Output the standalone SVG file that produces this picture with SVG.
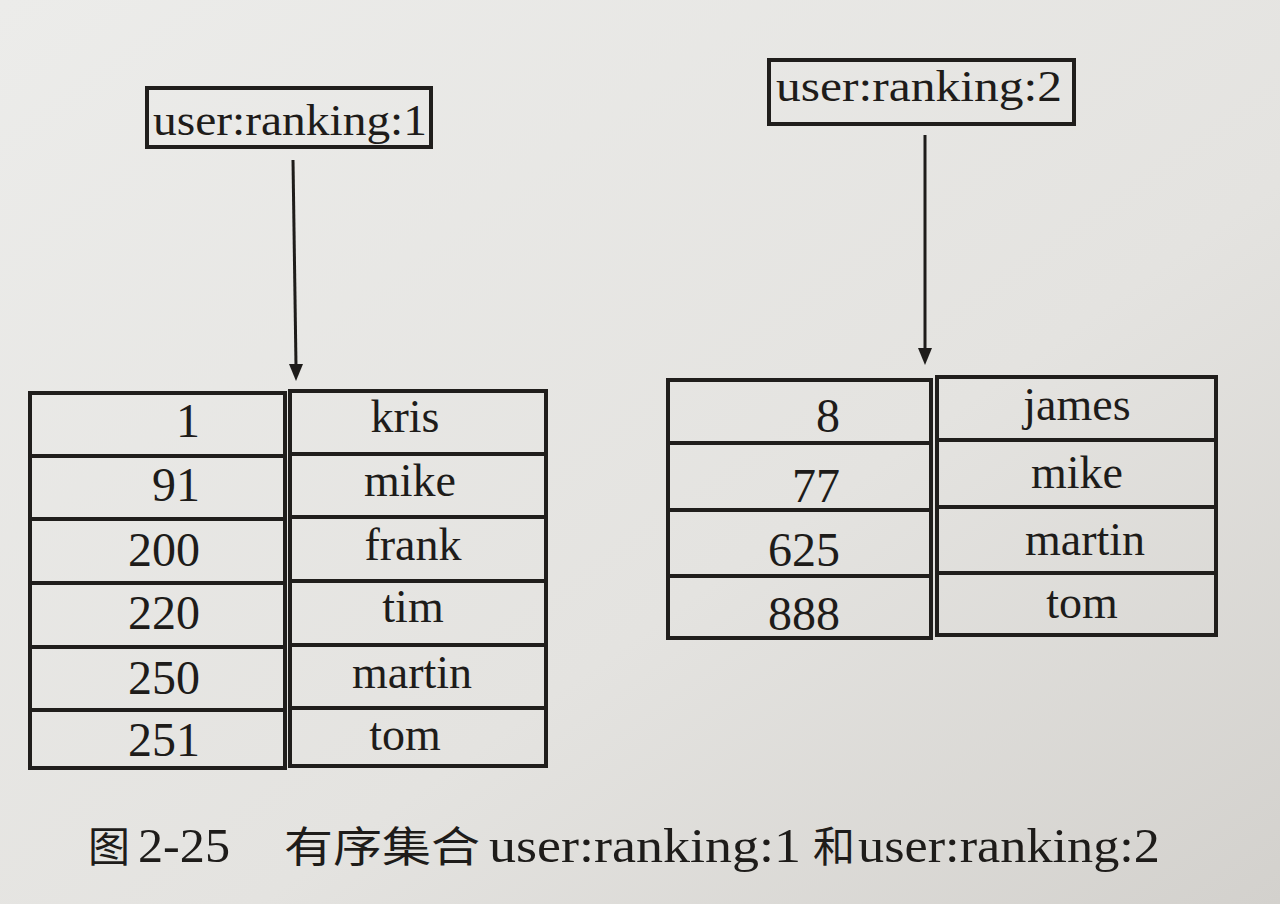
<svg xmlns="http://www.w3.org/2000/svg" width="1280" height="904" viewBox="0 0 1280 904">
<defs>
<linearGradient id="bg" x1="0" y1="0" x2="1" y2="1">
<stop offset="0" stop-color="#ececea"/>
<stop offset="0.6" stop-color="#e4e3e0"/>
<stop offset="1" stop-color="#d3d1cd"/>
</linearGradient>
<style>
.cell{fill:none;stroke:#201e1c;stroke-width:4}
.lbl{fill:none;stroke:#201e1c;stroke-width:4}
.t{font-family:"Liberation Serif","Noto Sans CJK SC",serif;fill:#1e1c1a}
.num{font-size:48px;text-anchor:end}
.name{font-size:46px;text-anchor:middle}
.key{font-size:44px}
.cap{font-size:48px}
.cjk{font-size:42px}
.conn{stroke:#1e1c1a;stroke-width:3;fill:none}
.head{fill:#1e1c1a}
</style>
</defs>
<rect width="1280" height="904" fill="url(#bg)"/>

<g id="connectors">
<line class="conn" x1="293" y1="160" x2="296" y2="366"/>
<path class="head" d="M289,364 L303,364 L296,381 Z"/>
<line class="conn" x1="925" y1="135" x2="925" y2="350"/>
<path class="head" d="M918,348 L932,348 L925,365 Z"/>
</g>

<g id="key1">
<rect class="lbl" x="147" y="88" width="284" height="59"/>
<text class="t key" x="153" y="135" textLength="274" lengthAdjust="spacingAndGlyphs">user:ranking:1</text>
</g>
<g id="key2">
<rect class="lbl" x="769" y="60" width="305" height="64"/>
<text class="t key" x="776" y="101" textLength="286" lengthAdjust="spacingAndGlyphs">user:ranking:2</text>
</g>

<g id="table1">
<rect class="cell" x="30" y="393" width="255" height="63"/><rect class="cell" x="290" y="391" width="256" height="63"/>
<rect class="cell" x="30" y="456" width="255" height="63"/><rect class="cell" x="290" y="454" width="256" height="63"/>
<rect class="cell" x="30" y="519" width="255" height="64"/><rect class="cell" x="290" y="517" width="256" height="64"/>
<rect class="cell" x="30" y="583" width="255" height="64"/><rect class="cell" x="290" y="581" width="256" height="64"/>
<rect class="cell" x="30" y="647" width="255" height="63"/><rect class="cell" x="290" y="645" width="256" height="63"/>
<rect class="cell" x="30" y="710" width="255" height="58"/><rect class="cell" x="290" y="708" width="256" height="58"/>
<text class="t num" x="200" y="437">1</text><text class="t name" x="405" y="432">kris</text>
<text class="t num" x="200" y="501">91</text><text class="t name" x="410" y="496">mike</text>
<text class="t num" x="200" y="566">200</text><text class="t name" x="413" y="560">frank</text>
<text class="t num" x="200" y="629">220</text><text class="t name" x="413" y="622">tim</text>
<text class="t num" x="200" y="694">250</text><text class="t name" x="412" y="688">martin</text>
<text class="t num" x="200" y="756">251</text><text class="t name" x="405" y="750">tom</text>
</g>

<g id="table2">
<rect class="cell" x="668" y="380" width="263" height="63"/><rect class="cell" x="937" y="377" width="279" height="63"/>
<rect class="cell" x="668" y="443" width="263" height="67"/><rect class="cell" x="937" y="440" width="279" height="67"/>
<rect class="cell" x="668" y="510" width="263" height="66"/><rect class="cell" x="937" y="507" width="279" height="66"/>
<rect class="cell" x="668" y="576" width="263" height="62"/><rect class="cell" x="937" y="573" width="279" height="62"/>
<text class="t num" x="840" y="432">8</text><text class="t name" x="1077" y="420">james</text>
<text class="t num" x="840" y="502">77</text><text class="t name" x="1077" y="488">mike</text>
<text class="t num" x="840" y="566">625</text><text class="t name" x="1085" y="555">martin</text>
<text class="t num" x="840" y="630">888</text><text class="t name" x="1082" y="618">tom</text>
</g>

<g id="caption">
<text class="t cjk" x="88" y="862">图</text>
<text class="t cap" x="138" y="862" textLength="92" lengthAdjust="spacingAndGlyphs">2-25</text>
<text class="t cjk" x="284" y="862" textLength="196" lengthAdjust="spacingAndGlyphs">有序集合</text>
<text class="t cap" x="489" y="862" textLength="312" lengthAdjust="spacingAndGlyphs">user:ranking:1</text>
<text class="t cjk" x="813" y="862">和</text>
<text class="t cap" x="858" y="862" textLength="302" lengthAdjust="spacingAndGlyphs">user:ranking:2</text>
</g>
</svg>
